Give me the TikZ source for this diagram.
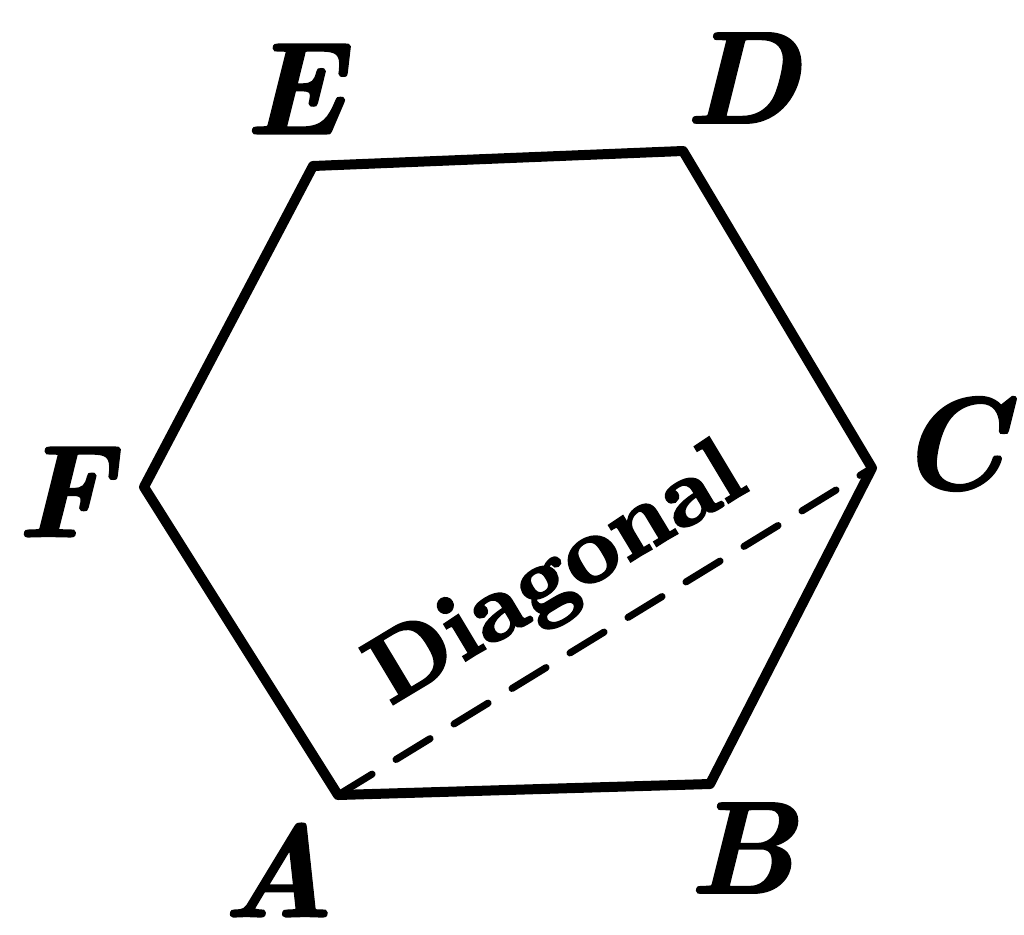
\documentclass[tikz,border=0pt]{standalone}
\usepackage{fontspec}
\newfontfamily\heavyroman{lmroman10-bold.otf}[FakeBold=2.5]
\newfontfamily\heavyitalic{lmroman10-bolditalic.otf}[FakeBold=1.5]
\begin{document}
\begin{tikzpicture}[x=1pt,y=-1pt,
  edge/.style={line width=10pt,line join=round,line cap=round},
  diag/.style={line width=7pt,line cap=round,dash pattern=on 40pt off 28pt},
  vlabel/.style={inner sep=0pt,font=\heavyitalic\fontsize{131}{140}\selectfont},
  dlabel/.style={inner sep=0pt,font=\heavyroman\fontsize{95}{100}\selectfont}]
\useasboundingbox (0,0) rectangle (1024,934);
\coordinate (A) at (338,795);
\coordinate (B) at (710,784);
\coordinate (C) at (872,468);
\coordinate (D) at (683,151);
\coordinate (E) at (313,166);
\coordinate (F) at (144,487);
\draw[edge] (A) -- (B) -- (C) -- (D) -- (E) -- (F) -- cycle;
\draw[diag] (A) -- (C);
\node[vlabel] (lA) at (278,870) {A};
\node[vlabel] (lB) at (742,848) {B};
\node[vlabel] (lC) at (951,444) {C};
\node[vlabel] (lD) at (742,78) {D};
\node[vlabel] (lE) at (294,89) {E};
\node[vlabel] (lF) at (64,492) {F};
\node[dlabel,rotate=31,anchor=base west] (diagtext) at (390,706) {Diagonal};
\end{tikzpicture}
\end{document}
